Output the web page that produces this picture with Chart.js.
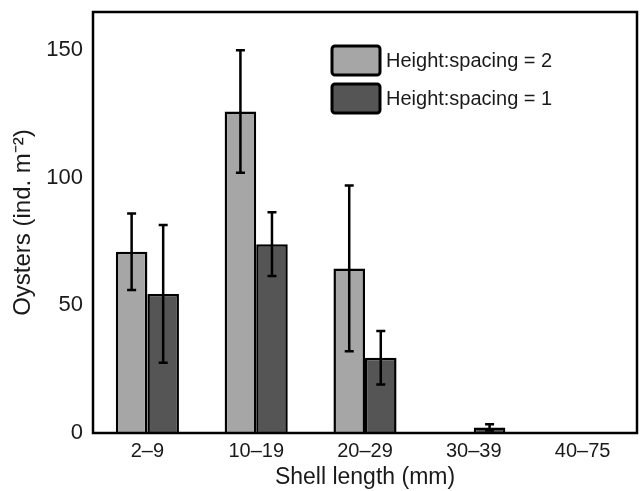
<!DOCTYPE html>
<html>
<head>
<meta charset="utf-8">
<script src="https://cdn.jsdelivr.net/npm/chart.js@4.4.1/dist/chart.umd.min.js"></script>
<style>
  html, body { margin: 0; padding: 0; background: #fff; }
  #wrap { width: 640px; height: 491px; }
</style>
</head>
<body>
<div id="wrap"><canvas id="oysterChart"></canvas></div>
<script>
// ── Data ────────────────────────────────────────────────
const sizeClasses  = ['2–9', '10–19', '20–29', '30–39', '40–75'];
const ratio2Means  = [71, 126, 64.5, 0, 0];
const ratio2Errors = [15, 24, 32.5, 0, 0];
const ratio1Means  = [54.5, 74, 29.5, 2.2, 0];
const ratio1Errors = [27, 12.5, 10.5, 1.2, 0];
const yTicks       = [0, 50, 100, 150];

const FONT = "'Liberation Sans', Arial, Helvetica, sans-serif";
const INK  = '#1a1a1a';

/* ── Error bars ─────────────────────────────────────────── */
const errorBars = {
  id: 'errorBars',
  afterDatasetsDraw(chart) {
    const { ctx, scales: { y } } = chart;
    ctx.save();
    ctx.strokeStyle = '#000';
    ctx.lineWidth = 2.5;
    chart.data.datasets.forEach((ds, di) => {
      const meta = chart.getDatasetMeta(di);
      meta.data.forEach((bar, i) => {
        const err = ds.errors[i];
        if (!err) return;
        const v = ds.data[i];
        const top = y.getPixelForValue(v + err);
        const bot = y.getPixelForValue(Math.max(0, v - err));
        const cap = 4.5;
        ctx.beginPath();
        ctx.moveTo(bar.x, top); ctx.lineTo(bar.x, bot);
        ctx.moveTo(bar.x - cap, top); ctx.lineTo(bar.x + cap, top);
        ctx.moveTo(bar.x - cap, bot); ctx.lineTo(bar.x + cap, bot);
        ctx.stroke();
      });
    });
    ctx.restore();
  }
};

/* ── Frame + legend inside plot ─────────────────────────── */
const frameLegend = {
  id: 'frameLegend',
  afterDraw(chart) {
    const { ctx, chartArea: a } = chart;
    ctx.save();
    ctx.strokeStyle = '#000';
    ctx.lineWidth = 2.5;
    ctx.strokeRect(a.left, a.top, a.right - a.left, a.bottom - a.top);

    chart.data.datasets.forEach((ds, i) => {
      const bx = 332, by = 46 + i * 38, bw = 48, bh = 29;
      ctx.beginPath();
      ctx.roundRect(bx, by, bw, bh, 3);
      ctx.fillStyle = ds.backgroundColor;
      ctx.fill();
      ctx.lineWidth = 3;
      ctx.stroke();
      ctx.fillStyle = INK;
      ctx.font = `20px ${FONT}`;
      ctx.textBaseline = 'middle';
      ctx.fillText(ds.label, bx + bw + 6, by + bh / 2 + 1);
    });
    ctx.restore();
  }
};

new Chart(document.getElementById('oysterChart'), {
  type: 'bar',
  data: {
    labels: sizeClasses,
    datasets: [
      { label: 'Height:spacing = 2', data: ratio2Means, errors: ratio2Errors,
        backgroundColor: '#a6a6a6', borderColor: '#000', borderWidth: 2.5 },
      { label: 'Height:spacing = 1', data: ratio1Means, errors: ratio1Errors,
        backgroundColor: '#555555', borderColor: '#000', borderWidth: 2.5 }
    ]
  },
  options: {
    responsive: true,
    maintainAspectRatio: false,
    animation: false,
    categoryPercentage: 0.58,
    barPercentage: 1.0,
    layout: { padding: { top: 12, right: 3, left: 0, bottom: 0 } },
    plugins: { legend: { display: false }, tooltip: { enabled: false } },
    scales: {
      x: {
        grid: { display: false, drawTicks: false },
        border: { display: false },
        ticks: { color: INK, font: { family: FONT, size: 20 }, padding: 6 },
        title: { display: true, text: 'Shell length (mm)', color: INK,
                 font: { family: FONT, size: 23 }, padding: { top: 0, bottom: 0 } },
        afterFit(scale) { scale.height = 58; scale.paddingLeft = 0; scale.paddingRight = 0; }
      },
      y: {
        min: 0, max: 165,
        grid: { display: false, drawTicks: false },
        border: { display: false },
        afterBuildTicks(scale) { scale.ticks = yTicks.map(v => ({ value: v })); },
        ticks: { color: INK, font: { family: FONT, size: 22 }, padding: 10 },
        title: { display: true, text: 'Oysters (ind. m⁻²)', color: INK,
                 font: { family: FONT, size: 24 }, padding: { top: 9, bottom: 0 } },
        afterFit(scale) { scale.width = 93; scale.paddingTop = 0; scale.paddingBottom = 0; }
      }
    }
  },
  plugins: [errorBars, frameLegend]
});
</script>
</body>
</html>
